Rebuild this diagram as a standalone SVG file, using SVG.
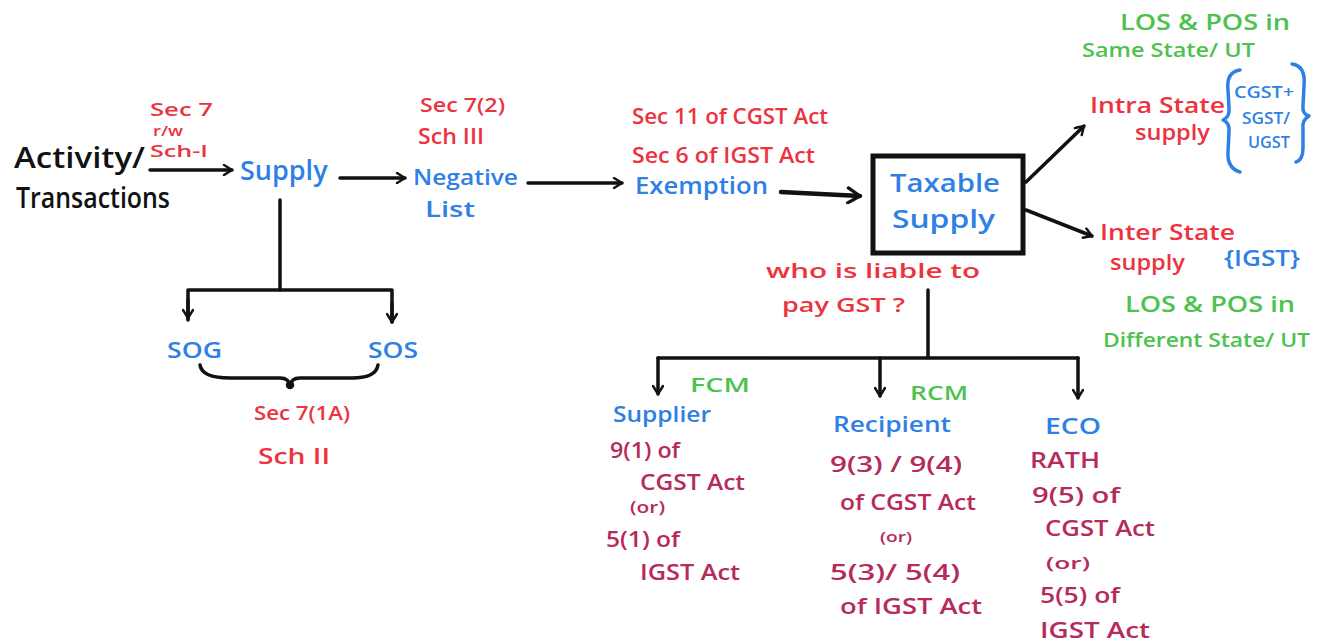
<svg xmlns="http://www.w3.org/2000/svg" width="1324" height="644" viewBox="0 0 1324 644">
  <style>
    text { font-family: "Open Sans", "Liberation Sans", sans-serif; font-weight: 600; }
    .blk { fill: #111; font-size: 28px; }
    .red { fill: #ec3340; }
    .blue { fill: #2f80e4; }
    .green { fill: #4dc24f; }
    .mar { fill: #b62a5c; }
    .line { fill: none; stroke: #111; stroke-width: 3.5; stroke-linecap: round; stroke-linejoin: round; }
    .thick { stroke-width: 4.5; }
    .brace { fill: none; stroke: #2f80e4; stroke-width: 3.5; stroke-linecap: round; stroke-linejoin: round; }
  </style>
  <defs>
    <marker id="arr" viewBox="0 0 12 12" refX="10" refY="6" markerWidth="12" markerHeight="12" markerUnits="userSpaceOnUse" orient="auto">
      <path d="M2,1 L10,6 L2,11" fill="none" stroke="#111" stroke-width="2.4" stroke-linecap="round" stroke-linejoin="round"/>
    </marker>
    <marker id="arrL" viewBox="0 0 12 12" refX="10" refY="6" markerWidth="18" markerHeight="18" markerUnits="userSpaceOnUse" orient="auto">
      <path d="M2,1 L10,6 L2,11" fill="none" stroke="#111" stroke-width="2.2" stroke-linecap="round" stroke-linejoin="round"/>
    </marker>
  </defs>

  <!-- connectors -->
  <g id="connectors">
    <path class="line" d="M150,170 L232,170" marker-end="url(#arr)"/>
    <path class="line" d="M340,178 L405,178" marker-end="url(#arr)"/>
    <path class="line" d="M528,183 L622,183" marker-end="url(#arr)"/>
    <path class="line thick" d="M781,192 L860,196" marker-end="url(#arrL)"/>
    <path class="line" d="M1026,182 L1084,126" marker-end="url(#arr)"/>
    <path class="line" d="M1026,210 L1092,236" marker-end="url(#arr)"/>
    <!-- supply split -->
    <path class="line" d="M280,200 L280,290"/>
    <path class="line" d="M188,320 L188,290 L392,290 L392,322" />
    <path class="line" d="M188,300 L188,318" marker-end="url(#arr)"/>
    <path class="line" d="M392,304 L392,322" marker-end="url(#arr)"/>
    <!-- brace under SOG / SOS -->
    <path class="line" d="M200,365 Q202,378 230,378 L280,378 Q289,378 290,386 Q291,378 300,378 L352,378 Q376,378 378,365"/>
    <circle cx="290" cy="385" r="3" fill="none" stroke="#111" stroke-width="2.5"/>
    <!-- liability split -->
    <path class="line" d="M928,290 L928,358"/>
    <path class="line" d="M658,358 L1078,358"/>
    <path class="line" d="M658,358 L658,394" marker-end="url(#arr)"/>
    <path class="line" d="M880,358 L880,396" marker-end="url(#arr)"/>
    <path class="line" d="M1078,358 L1078,398" marker-end="url(#arr)"/>
  </g>

  <g id="activity">
    <text class="blk" x="14" y="168" textLength="131" lengthAdjust="spacingAndGlyphs">Activity/</text>
    <text class="blk" x="16" y="208" textLength="154" lengthAdjust="spacingAndGlyphs">Transactions</text>
  </g>

  <g id="sec7">
    <text class="red" font-size="18" x="150" y="116" textLength="63" lengthAdjust="spacingAndGlyphs">Sec 7</text>
    <text class="red" font-size="15" x="153" y="136" textLength="30" lengthAdjust="spacingAndGlyphs">r/w</text>
    <text class="red" font-size="16" x="150" y="157" textLength="58" lengthAdjust="spacingAndGlyphs">Sch-I</text>
  </g>

  <g id="supply">
    <text class="blue" font-size="27" x="240" y="180">Supply</text>
  </g>

  <g id="negative-list">
    <text class="red" font-size="19" x="420" y="112" textLength="85" lengthAdjust="spacingAndGlyphs">Sec 7(2)</text>
    <text class="red" font-size="21" x="418" y="144" textLength="66" lengthAdjust="spacingAndGlyphs">Sch III</text>
    <text class="blue" font-size="22" x="413" y="185" textLength="105" lengthAdjust="spacingAndGlyphs">Negative</text>
    <text class="blue" font-size="21" x="425" y="217" textLength="50" lengthAdjust="spacingAndGlyphs">List</text>
  </g>

  <g id="exemption">
    <text class="red" font-size="21" x="632" y="124" textLength="196" lengthAdjust="spacingAndGlyphs">Sec 11 of CGST Act</text>
    <text class="red" font-size="21" x="632" y="163" textLength="183" lengthAdjust="spacingAndGlyphs">Sec 6 of IGST Act</text>
    <text class="blue" font-size="23" x="635" y="194" textLength="133" lengthAdjust="spacingAndGlyphs">Exemption</text>
  </g>

  <g id="taxable-supply">
    <rect x="873" y="156" width="150" height="97" fill="none" stroke="#111" stroke-width="5"/>
    <text class="blue" font-size="25" x="890" y="192" textLength="110" lengthAdjust="spacingAndGlyphs">Taxable</text>
    <text class="blue" font-size="25" x="892" y="228" textLength="103" lengthAdjust="spacingAndGlyphs">Supply</text>
  </g>

  <g id="intra-state">
    <text class="green" font-size="21" x="1120" y="30" textLength="170" lengthAdjust="spacingAndGlyphs">LOS &amp; POS in</text>
    <text class="green" font-size="20" x="1082" y="57" textLength="173" lengthAdjust="spacingAndGlyphs">Same State/ UT</text>
    <text class="red" font-size="22" x="1090" y="113" textLength="135" lengthAdjust="spacingAndGlyphs">Intra State</text>
    <text class="red" font-size="22" x="1135" y="140" textLength="75" lengthAdjust="spacingAndGlyphs">supply</text>
    <path class="brace" d="M1240,70 Q1226,72 1228,90 L1229,108 Q1230,117 1223,120 Q1230,123 1229,132 L1228,152 Q1227,168 1240,172"/>
    <text class="blue" font-size="16" x="1234" y="98" textLength="60" lengthAdjust="spacingAndGlyphs">CGST+</text>
    <text class="blue" font-size="16" x="1242" y="124" textLength="48" lengthAdjust="spacingAndGlyphs">SGST/</text>
    <text class="blue" font-size="16" x="1248" y="148" textLength="42" lengthAdjust="spacingAndGlyphs">UGST</text>
    <path class="brace" d="M1292,64 Q1306,66 1304,86 L1303,106 Q1302,114 1309,116 Q1302,120 1303,128 L1303,148 Q1303,160 1296,162"/>
  </g>

  <g id="inter-state">
    <text class="red" font-size="21" x="1100" y="240" textLength="135" lengthAdjust="spacingAndGlyphs">Inter State</text>
    <text class="red" font-size="22" x="1110" y="270" textLength="75" lengthAdjust="spacingAndGlyphs">supply</text>
    <text class="blue" font-size="21" x="1224" y="266" textLength="76" lengthAdjust="spacingAndGlyphs">{IGST}</text>
    <text class="green" font-size="21" x="1125" y="312" textLength="170" lengthAdjust="spacingAndGlyphs">LOS &amp; POS in</text>
    <text class="green" font-size="20" x="1103" y="347" textLength="207" lengthAdjust="spacingAndGlyphs">Different State/ UT</text>
  </g>

  <g id="sog">
    <text class="blue" font-size="22" x="167" y="358" textLength="55" lengthAdjust="spacingAndGlyphs">SOG</text>
  </g>
  <g id="sos">
    <text class="blue" font-size="22" x="368" y="358" textLength="50" lengthAdjust="spacingAndGlyphs">SOS</text>
  </g>

  <g id="sec7-1a">
    <text class="red" font-size="19" x="254" y="420" textLength="96" lengthAdjust="spacingAndGlyphs">Sec 7(1A)</text>
    <text class="red" font-size="21" x="258" y="464" textLength="72" lengthAdjust="spacingAndGlyphs">Sch II</text>
  </g>

  <g id="liability">
    <text class="red" font-size="20" x="766" y="278" textLength="214" lengthAdjust="spacingAndGlyphs">who is liable to</text>
    <text class="red" font-size="20" x="782" y="312" textLength="123" lengthAdjust="spacingAndGlyphs">pay GST ?</text>
  </g>

  <g id="supplier">
    <text class="green" font-size="20" x="690" y="392" textLength="60" lengthAdjust="spacingAndGlyphs">FCM</text>
    <text class="blue" font-size="21" x="613" y="422" textLength="98" lengthAdjust="spacingAndGlyphs">Supplier</text>
    <text class="mar" font-size="21" x="610" y="458" textLength="70" lengthAdjust="spacingAndGlyphs">9(1) of</text>
    <text class="mar" font-size="21" x="640" y="490" textLength="105" lengthAdjust="spacingAndGlyphs">CGST Act</text>
    <text class="mar" font-size="16" x="630" y="513" textLength="35" lengthAdjust="spacingAndGlyphs">(or)</text>
    <text class="mar" font-size="21" x="606" y="547" textLength="74" lengthAdjust="spacingAndGlyphs">5(1) of</text>
    <text class="mar" font-size="21" x="640" y="580" textLength="100" lengthAdjust="spacingAndGlyphs">IGST Act</text>
  </g>

  <g id="recipient">
    <text class="green" font-size="20" x="910" y="400" textLength="58" lengthAdjust="spacingAndGlyphs">RCM</text>
    <text class="blue" font-size="22" x="833" y="432" textLength="118" lengthAdjust="spacingAndGlyphs">Recipient</text>
    <text class="mar" font-size="22" x="830" y="472" textLength="132" lengthAdjust="spacingAndGlyphs">9(3) / 9(4)</text>
    <text class="mar" font-size="21" x="840" y="510" textLength="136" lengthAdjust="spacingAndGlyphs">of CGST Act</text>
    <text class="mar" font-size="15" x="880" y="542" textLength="32" lengthAdjust="spacingAndGlyphs">(or)</text>
    <text class="mar" font-size="22" x="830" y="580" textLength="130" lengthAdjust="spacingAndGlyphs">5(3)/ 5(4)</text>
    <text class="mar" font-size="21" x="840" y="614" textLength="142" lengthAdjust="spacingAndGlyphs">of IGST Act</text>
  </g>

  <g id="eco">
    <text class="blue" font-size="21" x="1045" y="434" textLength="56" lengthAdjust="spacingAndGlyphs">ECO</text>
    <text class="mar" font-size="21" x="1030" y="468" textLength="70" lengthAdjust="spacingAndGlyphs">RATH</text>
    <text class="mar" font-size="21" x="1032" y="503" textLength="88" lengthAdjust="spacingAndGlyphs">9(5) of</text>
    <text class="mar" font-size="21" x="1045" y="536" textLength="110" lengthAdjust="spacingAndGlyphs">CGST Act</text>
    <text class="mar" font-size="16" x="1046" y="569" textLength="44" lengthAdjust="spacingAndGlyphs">(or)</text>
    <text class="mar" font-size="21" x="1040" y="603" textLength="80" lengthAdjust="spacingAndGlyphs">5(5) of</text>
    <text class="mar" font-size="21" x="1040" y="638" textLength="110" lengthAdjust="spacingAndGlyphs">IGST Act</text>
  </g>
</svg>
